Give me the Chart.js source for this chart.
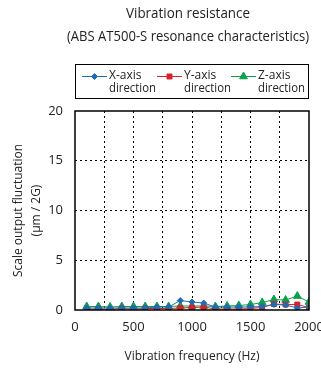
<!DOCTYPE html>
<html>
<head>
<meta charset="utf-8">
<script src="https://cdn.jsdelivr.net/npm/chart.js@4"></script>
<style>
  html, body { margin: 0; padding: 0; background: #fff; }
  #wrap { width: 321px; height: 372px; position: relative; }
</style>
</head>
<body>
<div id="wrap"><canvas id="grafico"></canvas></div>
<script>
// Dados
const frequencias = [100, 200, 300, 400, 500, 600, 700, 800, 900, 1000, 1100, 1200, 1300, 1400, 1500, 1600, 1700, 1800, 1900, 2000];
const eixoX = [0.2, 0.2, 0.2, 0.2, 0.2, 0.2, 0.3, 0.3, 0.95, 0.8, 0.7, 0.3, 0.3, 0.3, 0.3, 0.35, 0.55, 0.5, 0.2, 0.3];
const eixoY = [0.05, 0.1, 0.05, 0.15, 0.05, 0.15, 0.15, 0.15, 0.2, 0.25, 0.3, 0.1, 0.1, 0.1, 0.15, 0.25, 0.6, 0.55, 0.55, 0.25];
const eixoZ = [0.35, 0.35, 0.3, 0.35, 0.35, 0.35, 0.35, 0.35, 0.4, 0.4, 0.4, 0.35, 0.4, 0.45, 0.55, 0.75, 1.05, 1.0, 1.4, 0.8];
const nomesSeries = [["X-axis", "direction"], ["Y-axis", "direction"], ["Z-axis", "direction"]];
const titulo = ["Vibration resistance", "(ABS AT500-S resonance characteristics)"];
const tituloY = ["Scale output fluctuation", "(\u03bcm / 2G)"];
const tituloX = "Vibration frequency (Hz)";

const fonte = "'Open Sans', sans-serif";
const cores = ["#1e6db4", "#d9202a", "#0aa14b"];
const estilos = ["rectRot", "rect", "triangle"];
const raios = [3, 3.5, 4.5];

const pares = (vals) => frequencias.map((f, i) => ({ x: f, y: vals[i] }));

// Título, moldura e legenda desenhados no canvas
const legendaPlugin = {
  id: "legendaCaixa",
  afterDraw(chart) {
    const ctx = chart.ctx;
    const a = chart.chartArea;
    ctx.save();
    // título (centrado na área do gráfico)
    ctx.fillStyle = "#222";
    ctx.textAlign = "center";
    ctx.textBaseline = "middle";
    ctx.font = "15px " + fonte;
    ctx.fillText(titulo[0], 188, 14, 124);
    ctx.fillText(titulo[1], 188, 37, 242);
    // moldura
    ctx.strokeStyle = "#000";
    ctx.lineWidth = 1.5;
    ctx.strokeRect(a.left, a.top, a.right - a.left, a.bottom - a.top);
    // caixa da legenda
    const top = 64, bottom = 98;
    ctx.lineWidth = 1;
    ctx.strokeRect(a.left + 0.5, top + 0.5, a.right - a.left - 1, bottom - top);
    ctx.font = "12px " + fonte;
    ctx.textAlign = "left";
    const inicios = [a.left + 7, a.left + 82, a.left + 156];
    chart.data.datasets.forEach((ds, i) => {
      const x0 = inicios[i];
      const ym = 76.5;
      ctx.strokeStyle = cores[i];
      ctx.fillStyle = cores[i];
      ctx.lineWidth = 1;
      ctx.beginPath();
      ctx.moveTo(x0, ym);
      ctx.lineTo(x0 + 25, ym);
      ctx.stroke();
      Chart.helpers.drawPoint(ctx, { pointStyle: estilos[i], radius: raios[i], borderWidth: 1 }, x0 + 12.5, ym);
      ctx.fillStyle = "#222";
      const linhas = nomesSeries[i];
      ctx.fillText(linhas[0], x0 + 27, ym - 1, 40);
      ctx.fillText(linhas[1], x0 + 27, ym + 12, 47);
    });
    ctx.restore();
  }
};

const series = [eixoX, eixoY, eixoZ].map((vals, i) => ({
  label: nomesSeries[i].join(" "),
  data: pares(vals),
  borderColor: cores[i],
  backgroundColor: cores[i],
  borderWidth: 1,
  pointStyle: estilos[i],
  pointRadius: raios[i],
  pointBorderWidth: 1,
  tension: 0
}));

new Chart(document.getElementById("grafico"), {
  type: "line",
  data: { datasets: series },
  plugins: [legendaPlugin],
  options: {
    responsive: true,
    maintainAspectRatio: false,
    animation: false,
    layout: { padding: { left: 0, right: 0, top: 111, bottom: 0 } },
    plugins: {
      legend: { display: false },
      tooltip: { enabled: false },
      title: { display: false }
    },
    scales: {
      x: {
        type: "linear",
        min: 0,
        max: 2000,
        afterFit: (s) => {
          s.height = 62;
          s.paddingRight = 12;
          s.paddingLeft = 0;
        },
        ticks: {
          stepSize: 250,
          color: "#222",
          font: { family: fonte, size: 13 },
          maxRotation: 0,
          autoSkip: false,
          padding: 9,
          callback: (v) => (v % 500 === 0 ? v : "")
        },
        grid: {
          color: (c) => (c.tick && (c.tick.value === 0 || c.tick.value === 2000) ? "rgba(0,0,0,0)" : "#000"),
          lineWidth: 1,
          drawTicks: false
        },
        border: { display: false, dash: [2, 3] },
        title: {
          display: true,
          text: tituloX,
          color: "#222",
          font: { family: fonte, size: 12, lineHeight: 1.4 },
          padding: { top: 0, bottom: 7 }
        }
      },
      y: {
        min: 0,
        max: 20,
        afterFit: (s) => {
          s.width = 75;
          s.paddingTop = 0;
          s.paddingBottom = 0;
        },
        ticks: {
          stepSize: 5,
          color: "#222",
          font: { family: fonte, size: 13 },
          padding: 12
        },
        grid: {
          color: (c) => (c.tick && (c.tick.value === 0 || c.tick.value === 20) ? "rgba(0,0,0,0)" : "#000"),
          lineWidth: 1,
          drawTicks: false
        },
        border: { display: false, dash: [2, 3] },
        title: {
          display: true,
          text: tituloY,
          color: "#222",
          font: { family: fonte, size: 12, lineHeight: 1.5 },
          padding: { top: 10, bottom: 0 }
        }
      }
    }
  }
});
</script>
</body>
</html>
